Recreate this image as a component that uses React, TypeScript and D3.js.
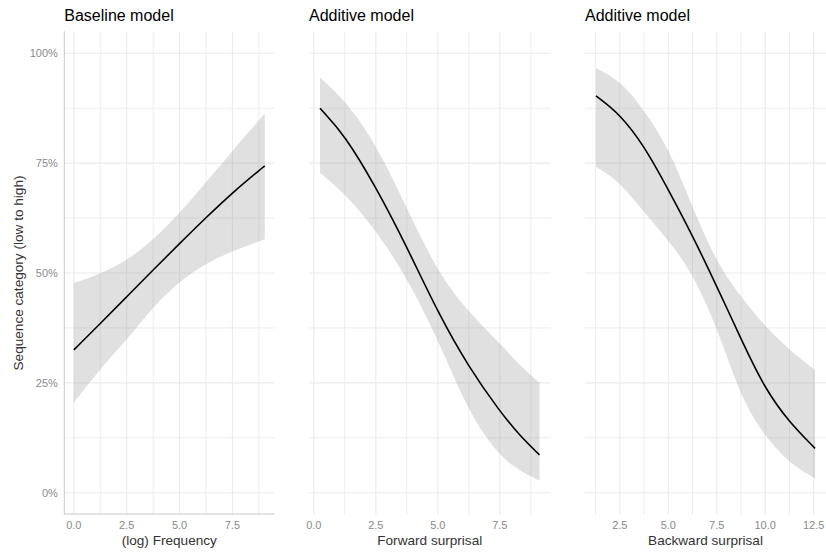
import React from "react";
import * as d3 from "d3";

const WIDTH = 826;
const HEIGHT = 553;
const FONT = "'Liberation Sans', Arial, Helvetica, sans-serif";

// panel titles and axis labels
const titles = ["Baseline model", "Additive model", "Additive model"];
const xTitles = ["(log) Frequency", "Forward surprisal", "Backward surprisal"];
const yTitle = "Sequence category (low to high)";

// y axis (percent)
const yBreaks = [0, 0.25, 0.5, 0.75, 1];
const yMinor = [0.125, 0.375, 0.625, 0.875];

// panel 1: baseline model, log frequency
const freqX = [0, 1.25, 2.5, 3.75, 5, 6.25, 7.5, 9.03];
const freqFit = [0.325, 0.385, 0.446, 0.507, 0.567, 0.626, 0.683, 0.744];
const freqLow = [0.205, 0.283, 0.347, 0.423, 0.482, 0.522, 0.55, 0.577];
const freqHigh = [0.477, 0.498, 0.528, 0.575, 0.636, 0.706, 0.778, 0.863];

// panel 2: additive model, forward surprisal
const fwdX = [0.25, 1.25, 2.5, 3.75, 5, 6.25, 7.5, 8.3, 9.1];
const fwdFit = [0.875, 0.814, 0.696, 0.56, 0.41, 0.285, 0.185, 0.13, 0.086];
const fwdLow = [0.728, 0.681, 0.598, 0.49, 0.35, 0.18, 0.082, 0.05, 0.027];
const fwdHigh = [0.945, 0.894, 0.795, 0.648, 0.5, 0.41, 0.34, 0.29, 0.25];

// panel 3: additive model, backward surprisal
const bwdX = [1.27, 2.5, 3.75, 5, 6.25, 7.5, 8.75, 10, 11.25, 12.57];
const bwdFit = [0.903, 0.862, 0.79, 0.69, 0.585, 0.47, 0.35, 0.235, 0.16, 0.101];
const bwdLow = [0.742, 0.708, 0.638, 0.575, 0.5, 0.378, 0.215, 0.127, 0.067, 0.033];
const bwdHigh = [0.966, 0.939, 0.871, 0.787, 0.65, 0.522, 0.446, 0.378, 0.325, 0.279];

const xBreaks = [
  [0, 2.5, 5, 7.5],
  [0, 2.5, 5, 7.5],
  [2.5, 5, 7.5, 10, 12.5],
];

const panels = [
  { x: freqX, fit: freqFit, low: freqLow, high: freqHigh, left: 64.3, right: 274.3 },
  { x: fwdX, fit: fwdFit, low: fwdLow, high: fwdHigh, left: 309, right: 550.5 },
  { x: bwdX, fit: bwdFit, low: bwdLow, high: bwdHigh, left: 585, right: 826 },
];

const TOP = 31.3;
const BOTTOM = 514.7;

const Panel = ({ p, i }: { p: typeof panels[number]; i: number }) => {
  const [lo, hi] = d3.extent(p.x) as [number, number];
  const pad = (hi - lo) * 0.05;
  const x = d3.scaleLinear().domain([lo - pad, hi + pad]).range([p.left, p.right]);
  const y = d3.scaleLinear().domain([-0.05, 1.05]).range([BOTTOM, TOP]);

  const majors = xBreaks[i];
  const step = majors[1] - majors[0];
  const minors: number[] = [];
  for (let v = majors[0] - step / 2; v <= hi + pad; v += step) {
    if (v >= lo - pad) minors.push(v);
  }

  const rows = p.x.map((d, k) => ({ x: d, fit: p.fit[k], low: p.low[k], high: p.high[k] }));
  const area = d3
    .area<typeof rows[number]>()
    .x((d) => x(d.x))
    .y0((d) => y(d.low))
    .y1((d) => y(d.high))
    .curve(d3.curveBasis);
  const line = d3
    .line<typeof rows[number]>()
    .x((d) => x(d.x))
    .y((d) => y(d.fit))
    .curve(d3.curveBasis);

  const cx = (p.left + p.right) / 2;

  return (
    <g>
      {/* grid */}
      {yMinor.map((v) => (
        <line key={"ym" + v} x1={p.left} x2={p.right} y1={y(v)} y2={y(v)} stroke="#ebebeb" strokeWidth={0.9} />
      ))}
      {minors.map((v) => (
        <line key={"xm" + v} x1={x(v)} x2={x(v)} y1={TOP} y2={BOTTOM} stroke="#ebebeb" strokeWidth={0.9} />
      ))}
      {yBreaks.map((v) => (
        <line key={"y" + v} x1={p.left} x2={p.right} y1={y(v)} y2={y(v)} stroke="#ebebeb" strokeWidth={1.1} />
      ))}
      {majors.map((v) => (
        <line key={"x" + v} x1={x(v)} x2={x(v)} y1={TOP} y2={BOTTOM} stroke="#ebebeb" strokeWidth={1.1} />
      ))}

      <path d={area(rows) || ""} fill="#999999" fillOpacity={0.3} />
      <path d={line(rows) || ""} fill="none" stroke="#000" strokeWidth={1.6} />

      {i === 0 && (
        <g>
          <line x1={p.left} x2={p.left} y1={TOP} y2={BOTTOM} stroke="#c8c8c8" strokeWidth={1} />
          <line x1={p.left} x2={p.right} y1={BOTTOM - 0.7} y2={BOTTOM - 0.7} stroke="#c8c8c8" strokeWidth={1} />
          {yBreaks.map((v) => (
            <text key={"yl" + v} x={p.left - 6.5} y={y(v)} dy="0.35em" textAnchor="end" fontSize={11} fill="#8a8a8a">
              {d3.format(".0%")(v)}
            </text>
          ))}
        </g>
      )}

      {majors.map((v) => (
        <text key={"xl" + v} x={x(v)} y={529} textAnchor="middle" fontSize={11} fill="#8a8a8a">
          {d3.format(".1f")(v)}
        </text>
      ))}

      <text x={cx} y={545} textAnchor="middle" fontSize={13.6} fill="#333">
        {xTitles[i]}
      </text>
      <text x={p.left} y={21} fontSize={16} fill="#000">
        {titles[i]}
      </text>
    </g>
  );
};

const App = () => {
  return (
    <svg
      width={WIDTH}
      height={HEIGHT}
      style={{ position: "absolute", left: 0, top: 0, background: "#fff" }}
      fontFamily={FONT}
    >
      <rect width={WIDTH} height={HEIGHT} fill="#fff" />
      {panels.map((p, i) => (
        <Panel key={i} p={p} i={i} />
      ))}
      <text
        transform={"translate(23," + (TOP + BOTTOM) / 2 + ") rotate(-90)"}
        textAnchor="middle"
        fontSize={13.6}
        fill="#333"
      >
        {yTitle}
      </text>
    </svg>
  );
};

export default App;
